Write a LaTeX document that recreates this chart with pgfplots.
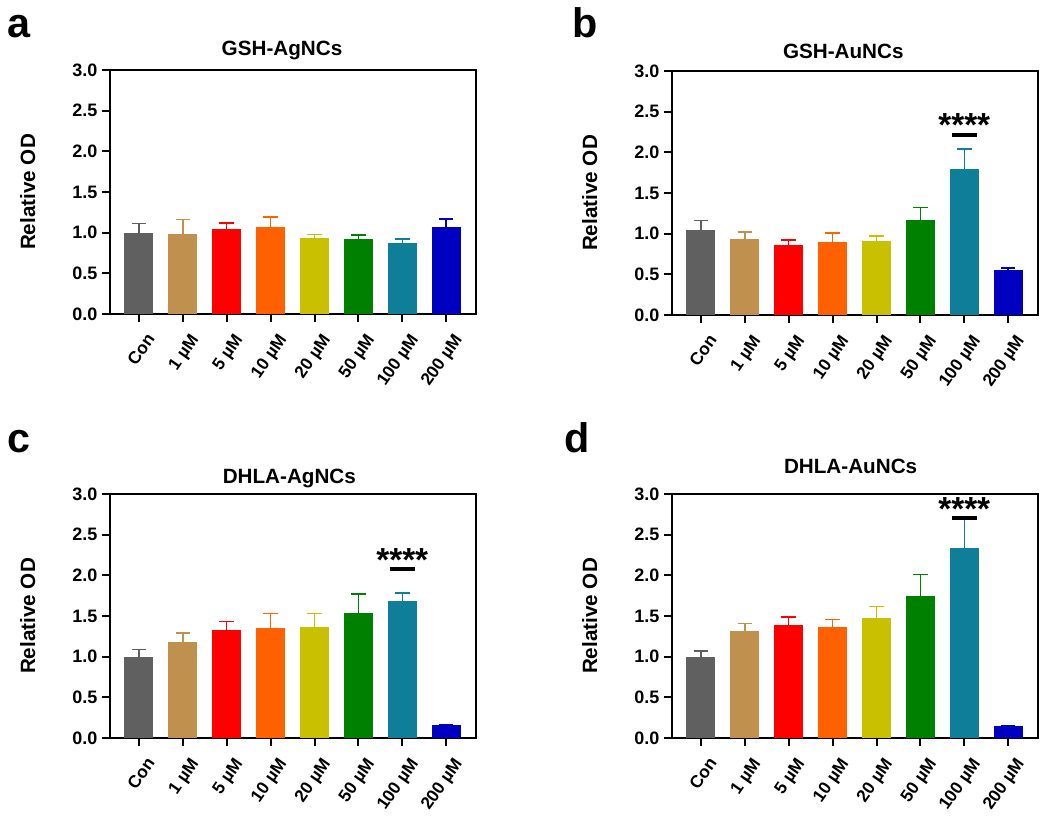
\documentclass[border=0pt]{standalone}
\usepackage{fontspec}
\setmainfont{Liberation Sans}
\usepackage{pgfplots}
\usepackage{pgfplotstable}
\pgfplotsset{compat=1.18}

\definecolor{c0}{HTML}{606060}
\definecolor{c1}{HTML}{C0904F}
\definecolor{c2}{HTML}{FF0000}
\definecolor{c3}{HTML}{FF6000}
\definecolor{c4}{HTML}{C8C000}
\definecolor{c5}{HTML}{008000}
\definecolor{c6}{HTML}{0F7F99}
\definecolor{c7}{HTML}{0000C0}

% x y err
\pgfplotstableread{
x y e
0 1.00 0.11
1 0.98 0.18
2 1.04 0.08
3 1.07 0.12
4 0.93 0.05
5 0.92 0.05
6 0.87 0.05
7 1.07 0.10
}\dataA
\pgfplotstableread{
x y e
0 1.04 0.12
1 0.93 0.09
2 0.86 0.06
3 0.90 0.11
4 0.91 0.06
5 1.17 0.15
6 1.79 0.25
7 0.55 0.025
}\dataB
\pgfplotstableread{
x y e
0 0.99 0.10
1 1.18 0.11
2 1.33 0.10
3 1.35 0.18
4 1.37 0.16
5 1.54 0.23
6 1.68 0.10
7 0.155 0.005
}\dataC
\pgfplotstableread{
x y e
0 0.99 0.08
1 1.31 0.10
2 1.39 0.10
3 1.36 0.10
4 1.48 0.14
5 1.75 0.26
6 2.34 0.35
7 0.15 0.005
}\dataD

\pgfplotsset{
  panel/.style={
    width=274.5pt, height=183pt, scale only axis, anchor=south west,
    xmin=-0.66, xmax=7.68, ymin=0, ymax=3,
    axis line style={line width=1.5pt},
    tick align=outside, xtick pos=bottom, ytick pos=left,
    major tick length=6pt, tick style={line width=1.5pt, black},
    xtick={0,...,7},
    xticklabels={Con,1 µM,5 µM,10 µM,20 µM,50 µM,100 µM,200 µM},
    ytick={0,0.5,1,1.5,2,2.5,3},
    yticklabel style={font=\fontsize{13.5}{15}\selectfont\bfseries,
      /pgf/number format/.cd, fixed, fixed zerofill, precision=1, assume math mode=true},
    xticklabel style={font=\fontsize{13}{15}\selectfont\bfseries, rotate=55, anchor=north east, yshift=-5pt},
    ylabel={Relative OD},
    ylabel style={at={(rel axis cs:-0.225,0.5)}, anchor=center, font=\fontsize{15.5}{18}\selectfont\bfseries},
    title style={anchor=base, font=\fontsize{15.5}{18}\selectfont\bfseries},
    clip=false,
  },
  bars/.style 2 args={
    ybar, bar width=0.66, bar shift=0pt, fill=c#2, draw=none,
    restrict x to domain=#2:#2,
    error bars/.cd, y dir=plus, y explicit,
    error bar style={c#2, line width=1.1pt},
    error mark options={c#2, rotate=90, mark size=5.5pt, line width=1.1pt},
  },
}
\newcommand{\drawbars}[1]{%
  \pgfplotsinvokeforeach{0,...,7}{%
    \addplot[bars={}{##1}] table[x=x, y=y, y error=e] {#1};
  }%
}
\newcommand{\stars}[2]{%
  \addplot[black, line width=3pt] coordinates {(5.71,#1) (6.29,#1)};
  \node[anchor=base, font=\fontsize{25}{25}\selectfont\bfseries] at (axis cs:6,#2) {****};
}

\begin{document}
\begin{tikzpicture}
\useasboundingbox (0,0) rectangle (787.5pt,627.75pt);

\begin{axis}[panel, at={(82.5pt,392.25pt)}, title={GSH-AgNCs},
  title style={at={(0.47,1)}, yshift=4.5pt}]
\drawbars{\dataA}
\end{axis}

\begin{axis}[panel, at={(504pt,391.5pt)}, title={GSH-AuNCs},
  title style={at={(0.468,1)}, yshift=3pt}]
\drawbars{\dataB}
\stars{2.21}{2.19}
\end{axis}

\begin{axis}[panel, at={(82.5pt,74.25pt)}, title={DHLA-AgNCs},
  title style={at={(0.49,1)}, yshift=1.5pt}]
\drawbars{\dataC}
\stars{2.08}{2.05}
\end{axis}

\begin{axis}[panel, at={(504pt,74.25pt)}, title={DHLA-AuNCs},
  title style={at={(0.488,1)}, yshift=9pt}]
\drawbars{\dataD}
\stars{2.70}{2.67}
\end{axis}

\node[anchor=base west, font=\fontsize{31}{31}\selectfont\bfseries] at (2.25pt,599.25pt) {a};
\node[anchor=base west, font=\fontsize{31}{31}\selectfont\bfseries] at (426pt,599.25pt) {b};
\node[anchor=base west, font=\fontsize{31}{31}\selectfont\bfseries] at (2.25pt,288pt) {c};
\node[anchor=base west, font=\fontsize{31}{31}\selectfont\bfseries] at (420pt,288pt) {d};
\end{tikzpicture}
\end{document}
